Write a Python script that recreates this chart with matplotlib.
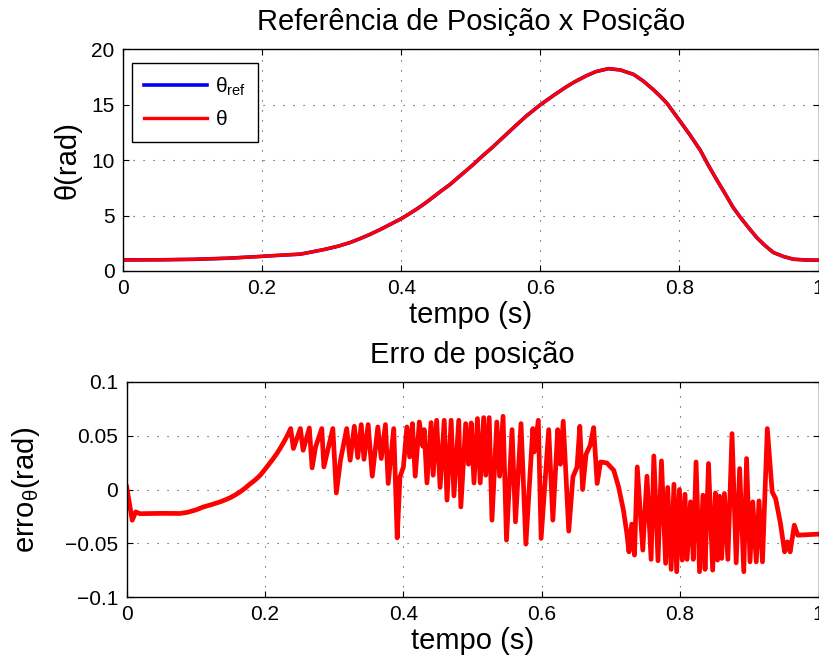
import matplotlib
matplotlib.use('Agg')
import matplotlib.pyplot as plt

pos_t = [0.0, 0.05, 0.10, 0.15, 0.20, 0.22, 0.255, 0.27, 0.29, 0.31,
         0.327, 0.34, 0.355, 0.37, 0.384, 0.40, 0.41, 0.4225, 0.434, 0.446,
         0.458, 0.470, 0.482, 0.494, 0.506, 0.518, 0.53, 0.542, 0.554, 0.566,
         0.58, 0.60, 0.619, 0.638, 0.65, 0.667, 0.68, 0.698, 0.715, 0.734,
         0.748, 0.762, 0.772, 0.782, 0.80, 0.815, 0.83, 0.842, 0.854, 0.866,
         0.877, 0.887, 0.897, 0.911, 0.923, 0.935, 0.95, 0.964, 0.98, 1.0]
theta_ref = [1.00, 1.01, 1.05, 1.15, 1.32, 1.40, 1.52, 1.70, 1.95, 2.25,
             2.58, 2.90, 3.30, 3.75, 4.20, 4.72, 5.10, 5.60, 6.10, 6.67,
             7.25, 7.80, 8.45, 9.09, 9.75, 10.45, 11.10, 11.80, 12.50, 13.20,
             14.00, 15.00, 15.85, 16.65, 17.10, 17.65, 18.00, 18.27, 18.15, 17.75,
             17.15, 16.40, 15.80, 15.15, 13.60, 12.30, 10.90, 9.50, 8.20, 6.95,
             5.76, 4.90, 4.10, 3.03, 2.30, 1.67, 1.30, 1.06, 1.00, 0.97]
# the measured trace sits on top of the reference at this scale
theta = list(theta_ref)

# position error (rad), bottom panel
err_t = [0.000, 0.008, 0.013, 0.019, 0.035, 0.050, 0.065, 0.077, 0.088, 0.100,
         0.111, 0.123, 0.135, 0.143, 0.150, 0.157, 0.164, 0.171, 0.178, 0.186,
         0.193, 0.199, 0.205, 0.211, 0.217, 0.222, 0.227, 0.232, 0.237,
         0.241, 0.251, 0.255,
         0.264, 0.268, 0.273, 0.282, 0.285, 0.298, 0.303, 0.309, 0.318, 0.323,
         0.329, 0.334, 0.339, 0.343, 0.349, 0.355, 0.363, 0.368, 0.374, 0.378,
         0.386, 0.391, 0.395, 0.400, 0.405, 0.409, 0.413, 0.417, 0.423, 0.428,
         0.430, 0.434, 0.440, 0.443, 0.448, 0.453, 0.459, 0.463, 0.469, 0.473,
         0.480, 0.483, 0.490, 0.494, 0.498, 0.502, 0.507, 0.511, 0.516, 0.519,
         0.524, 0.528, 0.535, 0.539, 0.544, 0.549, 0.557, 0.562, 0.570, 0.577,
         0.587, 0.589, 0.595, 0.599, 0.610, 0.616, 0.623, 0.627, 0.631, 0.639,
         0.645, 0.651, 0.655, 0.659, 0.664, 0.670, 0.675, 0.680, 0.685, 0.694,
         0.704, 0.711, 0.718, 0.723, 0.726, 0.730, 0.734, 0.738, 0.746, 0.752,
         0.758, 0.762, 0.768, 0.773, 0.779, 0.782, 0.787, 0.791, 0.795, 0.799,
         0.803, 0.807, 0.810, 0.815, 0.819, 0.823, 0.828, 0.833, 0.836, 0.841,
         0.847, 0.851, 0.854, 0.857, 0.860, 0.864, 0.869, 0.875, 0.881, 0.886,
         0.892, 0.896, 0.901, 0.905, 0.910, 0.914, 0.919, 0.926, 0.933, 0.938,
         0.945, 0.951, 0.955, 0.959, 0.965, 0.970, 1.000]
err = [0.0024, -0.0286, -0.0208, -0.0225, -0.0223, -0.0222, -0.0222, -0.0223, -0.0212, -0.0190,
       -0.0162, -0.0140, -0.0115, -0.0095, -0.0075, -0.0050, -0.0022, 0.0012, 0.0050, 0.0090,
       0.0133, 0.0180, 0.0230, 0.0280, 0.0334, 0.0385, 0.0440, 0.0500, 0.0567,
       0.0381, 0.0567, 0.0365,
       0.0572, 0.0201, 0.0396, 0.0567, 0.0210, 0.0567, -0.0032, 0.0272, 0.0567, 0.0272,
       0.0588, 0.0297, 0.0604, 0.0281, 0.0604, 0.0124, 0.0582, 0.0288, 0.0604, 0.0056,
       0.0567, -0.0450, 0.0117, 0.0210, 0.0582, 0.0303, 0.0613, 0.0124, 0.0628, 0.0402,
       0.0557, 0.0061, 0.0622, 0.0133, 0.0644, 0.0019, 0.0644, -0.0099, 0.0644, -0.0059,
       0.0644, -0.0162, 0.0613, 0.0235, 0.0619, 0.0061, 0.0660, 0.0061, 0.0669, 0.0133,
       0.0669, -0.0285, 0.0628, 0.0124, 0.0681, -0.0471, 0.0557, -0.0301, 0.0613, -0.0508,
       0.0567, 0.0349, 0.0644, -0.0455, 0.0557, -0.0285, 0.0557, 0.0235, 0.0635, -0.0387,
       0.0117, 0.0210, 0.0588, 0.0000, 0.0328, 0.0412, 0.0576, 0.0056, 0.0256, 0.0247,
       0.0179, 0.0024, -0.0192, -0.0409, -0.0580, -0.0322, -0.0610, 0.0210, -0.0564, 0.0124,
       -0.0650, 0.0312, -0.0663, 0.0266, -0.0687, 0.0019, -0.0743, 0.0049, -0.0765, 0.0000,
       -0.0657, -0.0044, -0.0650, -0.0115, -0.0650, 0.0256, -0.0765, -0.0053, -0.0743, 0.0242,
       -0.0750, -0.0032, -0.0657, -0.0062, -0.0641, -0.0037, -0.0650, 0.0520, -0.0682, 0.0195,
       -0.0765, 0.0288, -0.0673, -0.0115, -0.0673, -0.0106, -0.0673, 0.0567, -0.0022, -0.0084,
       -0.0316, -0.0580, -0.0487, -0.0580, -0.0332, -0.0425, -0.0415]

x_ticks = [0, 0.2, 0.4, 0.6, 0.8, 1]
x_labels = ['0', '0.2', '0.4', '0.6', '0.8', '1']
pos_ticks = [0, 5, 10, 15, 20]
pos_labels = ['0', '5', '10', '15', '20']
err_ticks = [-0.1, -0.05, 0, 0.05, 0.1]
err_labels = ['\u22120.1', '\u22120.05', '0', '0.05', '0.1']

plt.rcParams['font.family'] = ['Liberation Sans', 'DejaVu Sans']
plt.rcParams['mathtext.fontset'] = 'custom'
plt.rcParams['mathtext.rm'] = 'Liberation Sans'
plt.rcParams['mathtext.it'] = 'Liberation Sans'
plt.rcParams['mathtext.default'] = 'regular'


def style_axes(ax, yticks, ylabels):
    ax.set_xlim(0, 1)
    ax.set_xticks(x_ticks)
    ax.set_xticklabels(x_labels)
    ax.set_yticks(yticks)
    ax.set_yticklabels(ylabels)
    ax.set_ylim(yticks[0], yticks[-1])
    ax.grid(True, color='0.25', linestyle=(0, (1, 8)), linewidth=0.8)
    ax.tick_params(direction='in', top=True, right=True, length=4.5,
                   width=0.8, labelsize=15, pad=6)
    for s in ax.spines.values():
        s.set_linewidth(1.0)


fig = plt.figure(figsize=(8.19, 6.64), dpi=100)

ax1 = fig.add_axes([0.1502, 0.5919, 0.8492, 0.3336])
ax1.plot(pos_t, theta_ref, color='blue', lw=2.6, label=r'$\theta_{ref}$')
ax1.plot(pos_t, theta, color='red', lw=2.4, label=r'$\theta$')
style_axes(ax1, pos_ticks, pos_labels)
ax1.set_title('Referência de Posição x Posição', fontsize=21, pad=14)
ax1.set_xlabel('tempo (s)', fontsize=21, labelpad=2)
ax1.set_ylabel('θ(rad)', fontsize=21)
ax1.yaxis.set_label_coords(-0.059, 0.5)
leg = ax1.legend(loc='upper left', bbox_to_anchor=(0.0125, 0.94), borderaxespad=0,
                 fontsize=15, handlelength=3.0, handletextpad=0.4, borderpad=0.6,
                 labelspacing=0.6, fancybox=False, framealpha=1, edgecolor='black')
leg.get_frame().set_linewidth(1.0)

ax2 = fig.add_axes([0.1547, 0.1009, 0.8447, 0.3238])
ax2.plot(err_t, err, color='red', lw=3.4, solid_joinstyle='round')
style_axes(ax2, err_ticks, err_labels)
ax2.set_title('Erro de posição', fontsize=21, pad=14)
ax2.set_xlabel('tempo (s)', fontsize=21, labelpad=2)
ax2.set_ylabel(r'erro$_{\theta}$(rad)', fontsize=21)
ax2.yaxis.set_label_coords(-0.1225, 0.5)

fig.savefig('out.png', dpi=100)
